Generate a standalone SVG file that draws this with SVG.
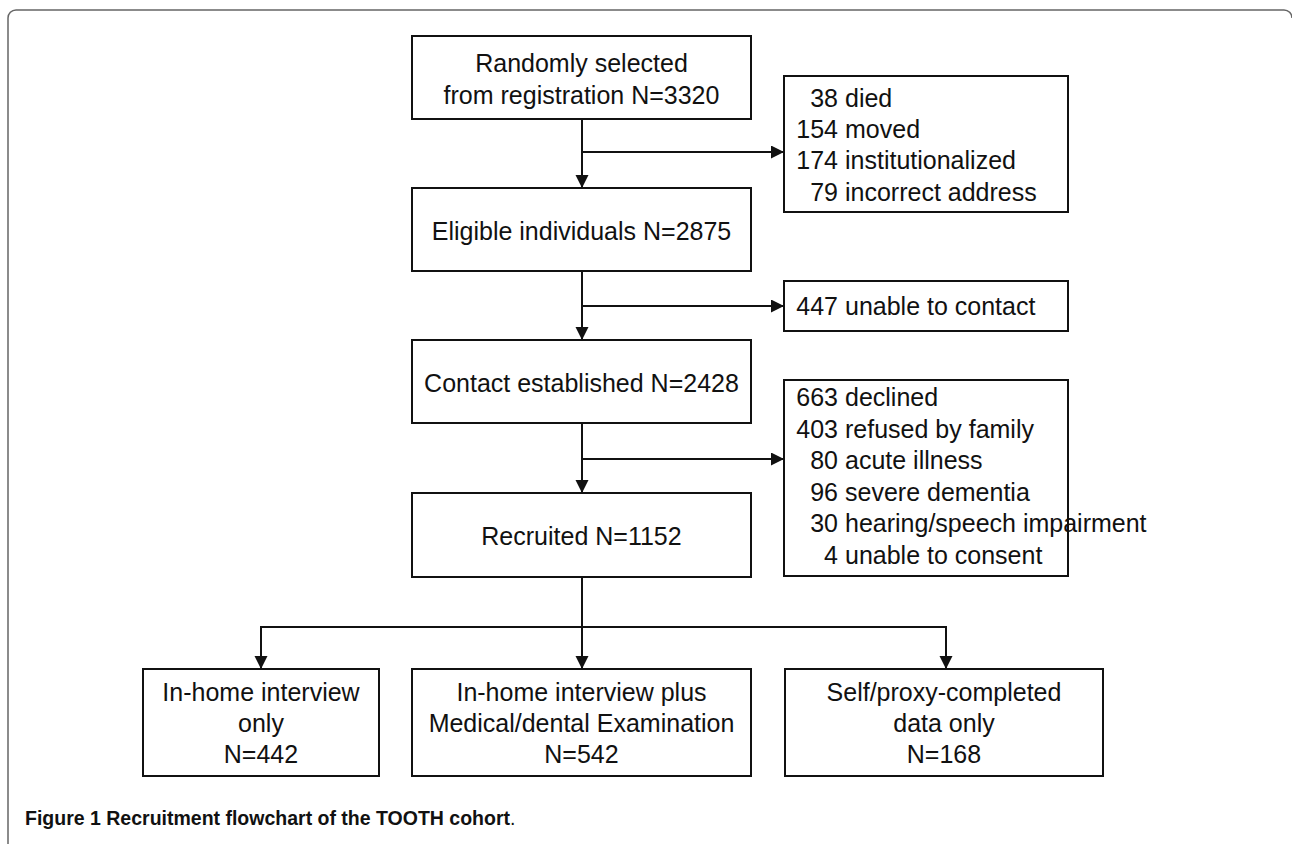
<svg xmlns="http://www.w3.org/2000/svg" width="1292" height="844" viewBox="0 0 1292 844">
<style>
.box{fill:#fff;stroke:#111;stroke-width:2}
.t{font-family:"Liberation Sans",Arial,sans-serif;font-size:25px;fill:#111}
.c{text-anchor:middle}
.e{text-anchor:end}
.ln{fill:none;stroke:#111;stroke-width:2}
.cap{font-family:"Liberation Sans",Arial,sans-serif;font-size:19.5px;fill:#111}
</style>
<defs>
<marker id="ah" markerUnits="userSpaceOnUse" markerWidth="14" markerHeight="14" refX="13" refY="6.5" orient="auto">
<path d="M0,0 L13,6.5 L0,13 z" fill="#111"/>
</marker>
</defs>
<rect width="1292" height="844" fill="#fff"/>
<path d="M8,844 V18 A8,8 0 0 1 16,10 H1284 A8,8 0 0 1 1292,18" fill="none" stroke="#666" stroke-width="1.5"/>
<g id="connectors">
<line class="ln" x1="582" y1="119" x2="582" y2="188" marker-end="url(#ah)"/>
<line class="ln" x1="582" y1="152" x2="784" y2="152" marker-end="url(#ah)"/>
<line class="ln" x1="582" y1="271" x2="582" y2="340" marker-end="url(#ah)"/>
<line class="ln" x1="582" y1="306" x2="784" y2="306" marker-end="url(#ah)"/>
<line class="ln" x1="582" y1="423" x2="582" y2="493" marker-end="url(#ah)"/>
<line class="ln" x1="582" y1="459" x2="784" y2="459" marker-end="url(#ah)"/>
<line class="ln" x1="582" y1="577" x2="582" y2="669" marker-end="url(#ah)"/>
<path class="ln" d="M261,669 V627 H946 V669"/>
<line class="ln" x1="261" y1="640" x2="261" y2="669" marker-end="url(#ah)"/>
<line class="ln" x1="946" y1="640" x2="946" y2="669" marker-end="url(#ah)"/>
</g>
<g id="n-random">
<rect class="box" x="412" y="36" width="339" height="83"/>
<text class="t c" x="581.5" y="72">Randomly selected</text>
<text class="t c" x="581.5" y="104">from registration N=3320</text>
</g>
<g id="n-excl1">
<rect class="box" x="784" y="76" width="284" height="136"/>
<text class="t e" x="838" y="107">38</text><text class="t" x="845" y="107">died</text>
<text class="t e" x="838" y="138">154</text><text class="t" x="845" y="138">moved</text>
<text class="t e" x="838" y="169">174</text><text class="t" x="845" y="169">institutionalized</text>
<text class="t e" x="838" y="201">79</text><text class="t" x="845" y="201">incorrect address</text>
</g>
<g id="n-eligible">
<rect class="box" x="412" y="188" width="339" height="83"/>
<text class="t c" x="581.5" y="240">Eligible individuals N=2875</text>
</g>
<g id="n-excl2">
<rect class="box" x="784" y="281" width="284" height="50"/>
<text class="t e" x="838" y="315">447</text><text class="t" x="845" y="315">unable to contact</text>
</g>
<g id="n-contact">
<rect class="box" x="412" y="340" width="339" height="83"/>
<text class="t c" x="581.5" y="392">Contact established N=2428</text>
</g>
<g id="n-excl3">
<rect class="box" x="784" y="380" width="284" height="196"/>
<text class="t e" x="838" y="406">663</text><text class="t" x="845" y="406">declined</text>
<text class="t e" x="838" y="437.5">403</text><text class="t" x="845" y="437.5">refused by family</text>
<text class="t e" x="838" y="469">80</text><text class="t" x="845" y="469">acute illness</text>
<text class="t e" x="838" y="500.5">96</text><text class="t" x="845" y="500.5">severe dementia</text>
<text class="t e" x="838" y="532">30</text><text class="t" x="845" y="532">hearing/speech impairment</text>
<text class="t e" x="838" y="563.5">4</text><text class="t" x="845" y="563.5">unable to consent</text>
</g>
<g id="n-recruited">
<rect class="box" x="412" y="493" width="339" height="84"/>
<text class="t c" x="581.5" y="545">Recruited N=1152</text>
</g>
<g id="n-interview">
<rect class="box" x="143" y="669" width="236" height="107"/>
<text class="t c" x="261" y="701">In-home interview</text>
<text class="t c" x="261" y="732">only</text>
<text class="t c" x="261" y="763">N=442</text>
</g>
<g id="n-exam">
<rect class="box" x="412" y="669" width="339" height="107"/>
<text class="t c" x="581.5" y="701">In-home interview plus</text>
<text class="t c" x="581.5" y="732">Medical/dental Examination</text>
<text class="t c" x="581.5" y="763">N=542</text>
</g>
<g id="n-self">
<rect class="box" x="785" y="669" width="318" height="107"/>
<text class="t c" x="944" y="701">Self/proxy-completed</text>
<text class="t c" x="944" y="732">data only</text>
<text class="t c" x="944" y="763">N=168</text>
</g>
<text class="cap" x="25" y="825"><tspan font-weight="bold">Figure 1 Recruitment flowchart of the TOOTH cohort</tspan>.</text>
</svg>
